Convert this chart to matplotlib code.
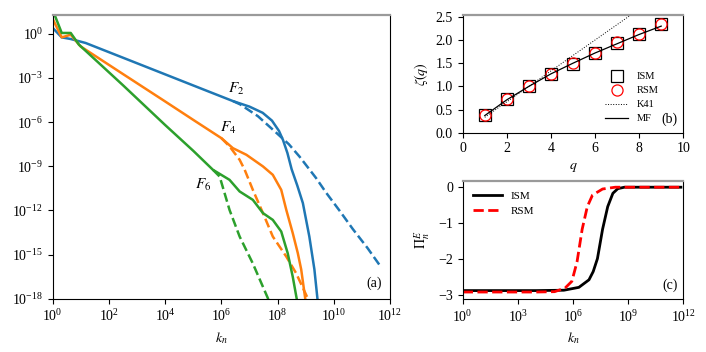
import numpy as np
import matplotlib
matplotlib.use("Agg")
import matplotlib.pyplot as plt
from matplotlib.ticker import LogLocator, NullLocator

plt.rcParams['font.family'] = ['Liberation Serif', 'DejaVu Serif']
plt.rcParams['mathtext.fontset'] = 'stix'
plt.rcParams['font.size'] = 10

# panel (a): structure functions, log10 k_n and log10 F_q
f2_lk = [0.0, 0.32, 0.64, 1.17, 2.5, 4.0, 5.5, 6.42, 7.0, 7.47, 7.8, 8.05, 8.19, 8.35, 8.5, 8.7, 8.9, 9.13, 9.31, 9.43]
f2_lf = [0.39, -0.25, -0.36, -0.63, -1.63, -2.76, -3.89, -4.58, -4.95, -5.37, -5.9, -6.6, -7.2, -8.1, -9.2, -10.3, -11.5, -13.77, -16.0, -18.2]
f2d_lk = [6.42, 6.67, 7.3, 7.94, 8.4, 8.78, 9.37, 9.73, 10.2, 10.68, 11.2, 11.69]
f2d_lf = [-4.58, -4.8, -5.6, -6.7, -7.5, -8.34, -9.8, -10.8, -12.0, -13.27, -14.55, -15.87]

f4_lk = [0.0, 0.32, 0.64, 0.99, 2.5, 4.0, 5.0, 6.0, 6.41, 6.89, 7.48, 7.83, 8.13, 8.31, 8.54, 8.72, 8.84, 9.0]
f4_lf = [1.0, -0.25, -0.07, -0.86, -2.74, -4.6, -5.85, -7.09, -7.77, -8.22, -9.01, -9.58, -10.6, -11.96, -13.54, -14.9, -16.0, -18.2]
f4d_lk = [6.0, 6.29, 6.65, 6.83, 7.12, 7.48, 7.83, 8.31, 8.66, 9.13]
f4d_lf = [-7.09, -7.65, -8.56, -9.24, -10.6, -12.18, -13.77, -15.13, -16.26, -18.2]

f6_lk = [0.0, 0.32, 0.64, 0.93, 2.5, 4.0, 5.0, 5.7, 6.29, 6.65, 7.12, 7.48, 7.83, 8.13, 8.36, 8.54, 8.7]
f6_lf = [1.6, 0.05, 0.05, -0.74, -3.5, -6.2, -7.95, -9.24, -9.92, -10.71, -11.28, -12.18, -12.64, -13.43, -14.9, -16.5, -18.2]
f6d_lk = [5.7, 5.94, 6.29, 6.65, 7.12, 7.71]
f6d_lf = [-9.24, -9.7, -11.96, -13.77, -15.6, -18.2]

# panel (b): scaling exponents
q = [1, 2, 3, 4, 5, 6, 7, 8, 9]
zeta_ism = [0.39, 0.72, 1.01, 1.26, 1.49, 1.72, 1.93, 2.13, 2.34]
zeta_rsm = [0.39, 0.73, 1.01, 1.27, 1.51, 1.73, 1.95, 2.14, 2.35]
zeta_k41 = [0.333, 0.667, 1.0, 1.333, 1.667, 2.0, 2.333, 2.667, 3.0]
zeta_mf = [0.37, 0.71, 1.0, 1.27, 1.5, 1.72, 1.92, 2.12, 2.3]

# panel (c): energy flux
pi_ism_lk = [0.0, 4.0, 5.5, 6.32, 6.87, 7.1, 7.33, 7.61, 7.89, 8.17, 8.44, 8.8, 11.87]
pi_ism = [-2.88, -2.88, -2.87, -2.79, -2.58, -2.35, -1.99, -1.17, -0.54, -0.17, -0.04, 0.0, 0.0]
pi_rsm_lk = [0.0, 4.0, 5.0, 5.57, 5.94, 6.22, 6.5, 6.78, 7.06, 7.61, 8.3, 11.87]
pi_rsm = [-2.92, -2.92, -2.91, -2.81, -2.62, -2.08, -1.17, -0.54, -0.22, -0.05, 0.0, 0.0]

fig = plt.figure(figsize=(7.06, 3.52), dpi=100)
ax_a = fig.add_axes([0.0747, 0.151, 0.4777, 0.8077])
ax_b = fig.add_axes([0.6554, 0.623, 0.3124, 0.3357])
ax_c = fig.add_axes([0.6554, 0.150, 0.3124, 0.336])

for ax in (ax_a, ax_b, ax_c):
    ax.spines['top'].set_color('#9a9a9a')
    ax.spines['top'].set_linewidth(1.6)

def p(v):
    return 10.0 ** np.array(v)

# (a)
ax_a.plot(p(f2_lk), p(f2_lf), color='tab:blue', lw=1.8)
ax_a.plot(p(f2d_lk), p(f2d_lf), color='tab:blue', lw=1.8, ls='--')
ax_a.plot(p(f4_lk), p(f4_lf), color='tab:orange', lw=1.8)
ax_a.plot(p(f4d_lk), p(f4d_lf), color='tab:orange', lw=1.8, ls='--')
ax_a.plot(p(f6_lk), p(f6_lf), color='tab:green', lw=1.8)
ax_a.plot(p(f6d_lk), p(f6d_lf), color='tab:green', lw=1.8, ls='--')
ax_a.set_xscale('log')
ax_a.set_yscale('log')
ax_a.set_xlim(1, 1e12)
ax_a.set_ylim(1e-18, 20)
ax_a.xaxis.set_major_locator(LogLocator(base=100, numticks=10))
ax_a.yaxis.set_major_locator(LogLocator(base=1000, numticks=10))
ax_a.xaxis.set_minor_locator(NullLocator())
ax_a.yaxis.set_minor_locator(NullLocator())
ax_a.set_xlabel(r'$k_n$')
ax_a.text(10**6.51, 10**-3.74, r'$F_2$', fontsize=11, ha='center', va='center')
ax_a.text(10**6.23, 10**-6.39, r'$F_4$', fontsize=11, ha='center', va='center')
ax_a.text(10**5.34, 10**-10.26, r'$F_6$', fontsize=11, ha='center', va='center')
ax_a.text(0.975, 0.03, '(a)', transform=ax_a.transAxes, ha='right', va='bottom')

# (b)
ax_b.plot(q, zeta_ism, ls='none', marker='s', ms=8, mfc='none', mec='black', mew=0.9, label='ISM')
ax_b.plot(q, zeta_rsm, ls='none', marker='o', ms=8, mfc='none', mec='red', mew=0.9, label='RSM')
ax_b.plot(q, zeta_k41, color='black', ls=':', lw=0.7, label='K41')
ax_b.plot(q, zeta_mf, color='black', lw=0.9, label='MF')
ax_b.set_xlim(0, 10)
ax_b.set_ylim(0, 2.55)
ax_b.set_xticks([0, 2, 4, 6, 8, 10])
ax_b.set_yticks([0, 0.5, 1.0, 1.5, 2.0, 2.5])
ax_b.set_xlabel(r'$q$')
ax_b.set_ylabel(r'$\zeta(q)$')
ax_b.legend(loc='lower right', bbox_to_anchor=(0.93, 0.0), frameon=False, fontsize=7.5,
            handlelength=2.2, labelspacing=0.45)
ax_b.text(0.975, 0.06, '(b)', transform=ax_b.transAxes, ha='right', va='bottom')

# (c)
ax_c.plot(p(pi_ism_lk), pi_ism, color='black', lw=2, label='ISM')
ax_c.plot(p(pi_rsm_lk), pi_rsm, color='red', lw=2, ls='--', label='RSM')
ax_c.set_xscale('log')
ax_c.set_xlim(1, 1e12)
ax_c.set_ylim(-3.12, 0.175)
ax_c.xaxis.set_major_locator(LogLocator(base=1000, numticks=10))
ax_c.xaxis.set_minor_locator(NullLocator())
ax_c.set_yticks([0, -1, -2, -3])
ax_c.set_xlabel(r'$k_n$')
ax_c.set_ylabel(r'$\Pi_n^E$')
ax_c.legend(loc='upper left', frameon=False, fontsize=8, handlelength=2.6)
ax_c.text(0.975, 0.06, '(c)', transform=ax_c.transAxes, ha='right', va='bottom')

fig.savefig('out.png', dpi=100)
